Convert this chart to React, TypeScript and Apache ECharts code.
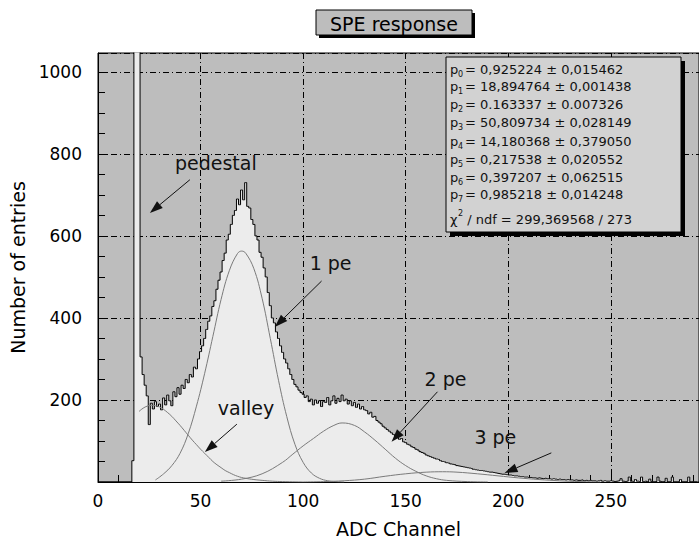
import React, { useEffect, useRef } from "react";
import * as echarts from "echarts";

// ---------- data ----------
// histogram counts, one bin per ADC channel, starting at channel 0
const counts: number[] = [
  0, 0, 0, 0, 0, 0, 0, 0, 0, 0,
  0, 0, 0, 0, 0, 0, 0, 52, 9000, 20000,
  6000, 305, 262, 236, 210, 140, 192, 178, 196, 184,
  190, 176, 205, 188, 212, 198, 186, 220, 208, 230,
  214, 236, 228, 250, 242, 262, 256, 280, 276, 300,
  318, 332, 350, 372, 392, 405, 428, 442, 470, 492,
  512, 540, 558, 590, 604, 628, 650, 662, 690, 676,
  712, 688, 730, 672, 668, 640, 628, 600, 590, 560,
  548, 522, 500, 462, 430, 400, 388, 366, 350, 332,
  316, 300, 290, 276, 262, 250, 238, 232, 224, 218,
  214, 206, 210, 196, 202, 188, 200, 192, 198, 184,
  196, 194, 206, 188, 198, 210, 192, 204, 196, 212,
  198, 202, 190, 198, 186, 194, 182, 190, 178, 184,
  176, 174, 166, 170, 158, 160, 150, 146, 142, 136,
  132, 128, 124, 120, 116, 112, 108, 104, 106, 98,
  96, 92, 90, 86, 84, 80, 78, 74, 72, 70,
  66, 64, 62, 60, 58, 56, 55, 52, 50, 49,
  47, 46, 44, 43, 42, 40, 39, 38, 37, 36,
  35, 34, 33, 31, 30, 29, 28, 28, 27, 26,
  25, 24, 24, 23, 22, 21, 20, 19, 19, 18,
  17, 17, 16, 15, 15, 14, 13, 13, 12, 12,
  11, 11, 10, 10, 9, 10, 9, 8, 9, 8,
  8, 7, 8, 7, 6, 7, 6, 6, 5, 6,
  5, 5, 4, 5, 4, 4, 5, 3, 4, 3,
  4, 3, 3, 2, 3, 4, 2, 3, 2, 2,
  3, 2, 1, 2, 3, 8, 2, 1, 2, 12,
  2, 1, 6, 2, 1, 12, 1, 2, 0, 7,
  1, 0, 1, 12, 2, 0, 1, 9, 0, 1,
  12, 0, 0, 1, 6, 0, 0, 1, 12, 0,
  1, 0, 0,
];

// fitted components [channel, entries]
const valleyCurve: number[][] = [
  [20, 172], [22, 180], [24, 185], [26, 187], [28, 186], [30, 183], [32, 177],
  [34, 169], [36, 160], [38, 149], [40, 138], [42, 126], [44, 114], [46, 102],
  [48, 91], [50, 80], [52, 70], [54, 60], [56, 50], [58, 42], [60, 35],
  [62, 28], [64, 23], [66, 18], [68, 14], [70, 11], [72, 9], [76, 6],
  [80, 4], [85, 2], [90, 1], [100, 0],
];
const onePeCurve: number[][] = [
  [28, 5], [32, 20], [36, 40], [40, 70], [44, 118], [48, 185], [52, 265],
  [56, 355], [60, 445], [64, 515], [68, 557], [70, 563], [72, 558], [76, 520],
  [80, 448], [84, 350], [88, 248], [92, 160], [96, 92], [100, 48], [104, 22],
  [108, 9], [112, 3], [116, 1], [120, 0],
];
const twoPeCurve: number[][] = [
  [60, 2], [70, 7], [80, 20], [90, 48], [95, 68], [100, 88], [105, 106],
  [110, 124], [115, 138], [119, 144], [125, 138], [130, 122], [135, 102],
  [140, 80], [145, 58], [150, 40], [155, 26], [160, 15], [165, 8], [170, 4],
  [180, 1], [190, 0],
];
const threePeCurve: number[][] = [
  [100, 0], [110, 1], [120, 3], [130, 7], [140, 14], [150, 20], [160, 24],
  [168, 25], [175, 24], [185, 20], [195, 15], [205, 10], [215, 6], [225, 3],
  [235, 1], [245, 0],
];

const statsSubs = ["0", "1", "2", "3", "4", "5", "6", "7"];
const statsValues = [
  "= 0,925224 \u00b1 0,015462",
  "= 18,894764 \u00b1 0,001438",
  "= 0.163337 \u00b1 0.007326",
  "= 50,809734 \u00b1 0,028149",
  "= 14,180368 \u00b1 0,379050",
  "= 0,217538 \u00b1 0,020552",
  "= 0,397207 \u00b1 0,062515",
  "= 0,985218 \u00b1 0,014248",
];
const chiText = " / ndf = 299,369568 / 273";
const titleText = "SPE response";

// annotation labels: label, text anchor [ch, entries], arrow start, arrow tip
const annotationLabels = ["pedestal", "1 pe", "valley", "2 pe", "3 pe"];
const annotationText: number[][] = [[37.5, 778], [103.2, 534], [58.4, 180], [159.2, 251], [183.5, 110]];
const annotationFrom: number[][] = [[44.8, 737], [109, 490], [67.7, 141], [165.5, 220], [221, 71]];
const annotationTo: number[][] = [[25.3, 656], [86.2, 378], [52.1, 73], [143.1, 98], [198.2, 22]];

const FONT = '"DejaVu Sans", "Liberation Sans", Arial, sans-serif';

export default function App() {
  const ref = useRef<HTMLDivElement>(null);
  useEffect(() => {
    document.body.style.margin = "0";
    if (!ref.current) return;
    const chart = echarts.init(ref.current, undefined, { renderer: "svg" });
    const histData = counts.map((v, i) => [i, v]);
    const compStyle = { color: "#7a7a7a", width: 1 };
    const compSeries = [valleyCurve, onePeCurve, twoPeCurve, threePeCurve].map((d) => ({
      type: "line",
      data: d,
      smooth: 0.4,
      symbol: "none",
      lineStyle: compStyle,
      z: 3,
      silent: true,
    }));
    chart.setOption({
      animation: false,
      grid: {
        left: 98,
        top: 53,
        width: 601,
        height: 429,
        show: true,
        backgroundColor: "#bdbdbd",
        borderColor: "#000",
        borderWidth: 1,
        outerBoundsMode: "none",
        containLabel: false,
      },
      xAxis: {
        type: "value",
        min: 0,
        max: 293,
        interval: 50,
        name: "ADC Channel",
        nameLocation: "middle",
        nameGap: 37,
        nameTextStyle: { fontFamily: FONT, fontSize: 19, color: "#000" },
        axisLine: { onZero: false, lineStyle: { color: "#000", width: 1 } },
        axisTick: { inside: true, length: 10, lineStyle: { color: "#000" } },
        minorTick: { show: true, splitNumber: 5, length: 7, lineStyle: { color: "#000" } },
        axisLabel: { fontFamily: FONT, fontSize: 17, color: "#000", margin: 10, showMaxLabel: false },
        splitLine: { show: true, lineStyle: { color: "#000", width: 1, type: [6, 3, 1, 3] } },
      },
      yAxis: {
        type: "value",
        min: 0,
        max: 1046,
        interval: 200,
        name: "Number of entries",
        nameLocation: "middle",
        nameGap: 67,
        nameTextStyle: { fontFamily: FONT, fontSize: 19, color: "#000" },
        axisLine: { show: true, lineStyle: { color: "#000", width: 1 } },
        axisTick: { inside: true, length: 10, lineStyle: { color: "#000" } },
        minorTick: { show: true, splitNumber: 4, length: 7, lineStyle: { color: "#000" } },
        axisLabel: {
          fontFamily: FONT,
          fontSize: 17,
          color: "#000",
          margin: 16,
          showMaxLabel: false,
          formatter: (v: number) => (v === 0 ? "" : String(v)),
        },
        splitLine: { show: true, lineStyle: { color: "#000", width: 1, type: [6, 3, 1, 3] } },
      },
      series: [
        {
          type: "line",
          data: histData,
          step: "middle",
          symbol: "none",
          lineStyle: { color: "#000", width: 1 },
          areaStyle: { color: "#ececec", opacity: 1 },
          z: 2,
          silent: true,
        },
        ...compSeries,
      ],
    });

    // overlay graphics
    const g: any[] = [];
    // title box
    const tx = 316, ty = 10, tw = 156, th = 25;
    g.push({ type: "rect", shape: { x: tx + 3, y: ty + 3, width: tw, height: th }, style: { fill: "#000" } });
    g.push({ type: "rect", shape: { x: tx, y: ty, width: tw, height: th }, style: { fill: "#bdbdbd", stroke: "#000", lineWidth: 1 } });
    g.push({
      type: "text",
      x: tx + tw / 2,
      y: ty + th / 2 + 1,
      style: { text: titleText, font: `19px ${FONT}`, fill: "#000", textAlign: "center", textVerticalAlign: "middle" },
    });
    // stats box
    const bx = 446, by = 57, bw = 235, bh = 175;
    g.push({ type: "rect", shape: { x: bx + 4, y: by + 4, width: bw, height: bh }, style: { fill: "#000" } });
    g.push({ type: "rect", shape: { x: bx, y: by, width: bw, height: bh }, style: { fill: "#d2d2d2", stroke: "#000", lineWidth: 1 } });
    const lx = bx + 4;
    statsSubs.forEach((s, i) => {
      const y = by + 12 + i * 17.7 + (i >= 4 ? 2 : 0);
      g.push({ type: "text", x: lx, y, style: { text: "p", font: `13px ${FONT}`, fill: "#111", textVerticalAlign: "middle" } });
      g.push({ type: "text", x: lx + 8, y: y + 5, style: { text: s, font: `8px ${FONT}`, fill: "#111", textVerticalAlign: "middle" } });
      g.push({ type: "text", x: lx + 15, y, style: { text: statsValues[i], font: `13px ${FONT}`, fill: "#111", textVerticalAlign: "middle" } });
    });
    const cy = by + 162;
    g.push({ type: "text", x: lx, y: cy, style: { text: "\u03c7", font: `13px ${FONT}`, fill: "#111", textVerticalAlign: "middle" } });
    g.push({ type: "text", x: lx + 8, y: cy - 6, style: { text: "2", font: `8px ${FONT}`, fill: "#111", textVerticalAlign: "middle" } });
    g.push({ type: "text", x: lx + 13, y: cy, style: { text: chiText, font: `13px ${FONT}`, fill: "#111", textVerticalAlign: "middle" } });

    // annotations
    annotationLabels.forEach((label, i) => {
      const tp = chart.convertToPixel({ gridIndex: 0 }, annotationText[i]) as number[];
      const fp = chart.convertToPixel({ gridIndex: 0 }, annotationFrom[i]) as number[];
      const ep = chart.convertToPixel({ gridIndex: 0 }, annotationTo[i]) as number[];
      g.push({
        type: "text",
        x: tp[0],
        y: tp[1],
        z: 100,
        style: { text: label, font: `19px ${FONT}`, fill: "#111", textVerticalAlign: "middle" },
      });
      const dx = ep[0] - fp[0], dy = ep[1] - fp[1];
      const len = Math.sqrt(dx * dx + dy * dy);
      const ux = dx / len, uy = dy / len;
      const L = 13, W = 9;
      const bxp = ep[0] - ux * L, byp = ep[1] - uy * L;
      const nx = -uy, ny = ux;
      g.push({
        type: "line",
        z: 100,
        shape: { x1: fp[0], y1: fp[1], x2: bxp, y2: byp },
        style: { stroke: "#111", lineWidth: 1 },
      });
      g.push({
        type: "polygon",
        z: 100,
        shape: {
          points: [
            [ep[0], ep[1]],
            [bxp + (nx * W) / 2, byp + (ny * W) / 2],
            [bxp - (nx * W) / 2, byp - (ny * W) / 2],
          ],
        },
        style: { fill: "#111" },
      });
    });
    chart.setOption({ graphic: g });

    return () => chart.dispose();
  }, []);
  return <div ref={ref} style={{ width: 699, height: 538 }} />;
}
